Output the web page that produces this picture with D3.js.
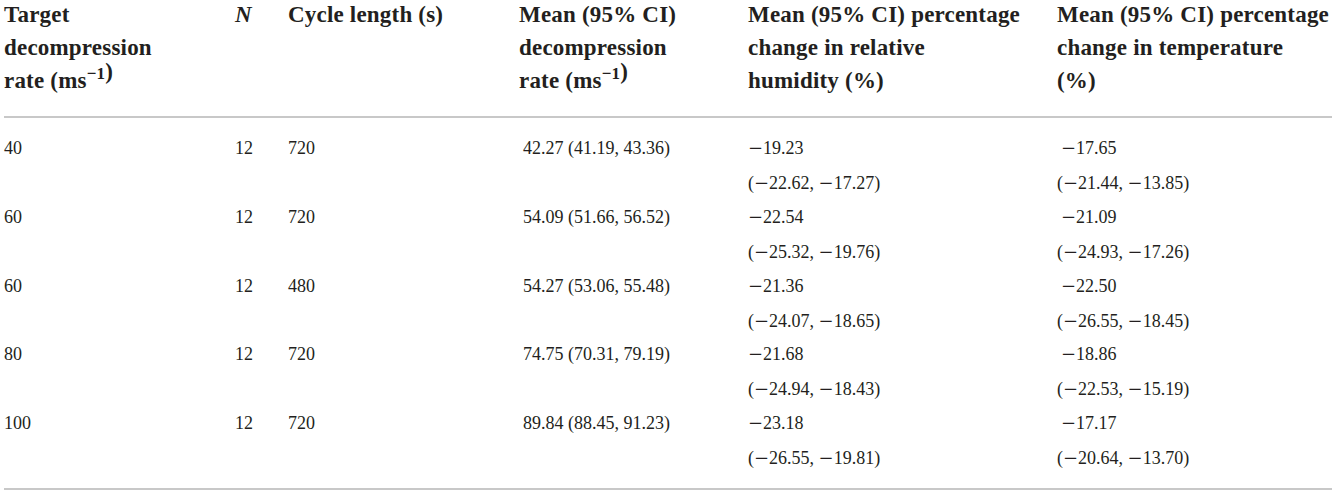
<!DOCTYPE html>
<html>
<head>
<meta charset="utf-8" />
<title>Decompression table</title>
<style>
    html, body { margin: 0; padding: 0; background: #fff; }
    svg text { fill: #231f20; }
    .head { font-family: "Liberation Serif", "Times New Roman", serif; font-weight: bold; font-size: 23px; letter-spacing: 0.2px; }
    .cell { font-family: "Liberation Serif", "Times New Roman", serif; font-size: 18px; }
    .minus { font-family: "DejaVu Serif", serif; }
</style>
</head>
<body>
<div id="container"></div>
<script src="https://cdn.jsdelivr.net/npm/d3@7"></script>
<script>
    // table values
    const columns = ['target', 'n', 'cycle', 'decomp', 'rh', 'temp']
    const headers = [
        ['Target', 'decompression', 'rate (ms^−1^)'],
        ['N'],
        ['Cycle length (s)'],
        ['Mean (95% CI)', 'decompression', 'rate (ms^−1^)'],
        ['Mean (95% CI) percentage', 'change in relative', 'humidity (%)'],
        ['Mean (95% CI) percentage', 'change in temperature', '(%)']
    ]
    const targetRate = [40, 60, 60, 80, 100]
    const nValues = [12, 12, 12, 12, 12]
    const cycleLength = [720, 720, 480, 720, 720]
    const decompMean = [42.27, 54.09, 54.27, 74.75, 89.84]
    const decompLo = [41.19, 51.66, 53.06, 70.31, 88.45]
    const decompHi = [43.36, 56.52, 55.48, 79.19, 91.23]
    const rhMean = [-19.23, -22.54, -21.36, -21.68, -23.18]
    const rhLo = [-22.62, -25.32, -24.07, -24.94, -26.55]
    const rhHi = [-17.27, -19.76, -18.65, -18.43, -19.81]
    const tempMean = [-17.65, -21.09, -22.50, -18.86, -17.17]
    const tempLo = [-21.44, -24.93, -26.55, -22.53, -20.64]
    const tempHi = [-13.85, -17.26, -18.45, -15.19, -13.70]

    const width = 1334
    const height = 495

    const f2 = d3.format('.2f')

    // one entry per row, each cell is a list of text lines
    const rows = targetRate.map(function(t, i) {
        return {
            target: [String(t)],
            n: [String(nValues[i])],
            cycle: [String(cycleLength[i])],
            decomp: [`${f2(decompMean[i])} (${f2(decompLo[i])}, ${f2(decompHi[i])})`],
            rh: [f2(rhMean[i]), `(${f2(rhLo[i])}, ${f2(rhHi[i])})`],
            temp: [f2(tempMean[i]), `(${f2(tempLo[i])}, ${f2(tempHi[i])})`]
        }
    })

    let svg = d3.select('#container').append('svg').attr('width', width).attr('height', height)

    // column left edges
    let xCol = d3.scaleOrdinal().domain(columns).range([4, 235, 288, 519, 748, 1057])
    // small indent of body text relative to header
    let xIndent = d3.scaleOrdinal().domain(columns).range([0, 0, 0, 4, 0, 0])
    // header line baselines
    let yHead = d3.scaleLinear().domain([0, 1]).range([22, 55])
    // row baselines
    let yRow = d3.scaleLinear().domain([0, 1]).range([154, 222.75])
    const lineGap = 35

    // rules
    const rules = [117, 489]
    svg.selectAll('line.rule').data(rules).enter().append('line')
        .attr('class', 'rule')
        .attr('x1', 4).attr('x2', 1332)
        .attr('y1', d => d).attr('y2', d => d)
        .attr('stroke', '#c8c8c8').attr('stroke-width', 2)

    // header
    columns.forEach(function(c, ci) {
        headers[ci].forEach(function(line, li) {
            let t = svg.append('text').attr('class', 'head')
                .attr('x', xCol(c)).attr('y', yHead(li))
            if (c === 'n') t.style('font-style', 'italic')
            line.split('^').forEach(function(part, pi) {
                if (!part) return
                if (pi % 2 === 1) {
                    t.append('tspan').attr('dy', -9).style('font-size', '17px').text(part)
                    t.append('tspan').attr('dy', 9).text('')
                } else {
                    t.append('tspan').text(part)
                }
            })
        })
    })

    // body text; minus signs set in a wider face like the original typeset
    function writeCell(sel, str) {
        const parts = str.split('−')
        parts.forEach(function(p, pi) {
            if (pi > 0) sel.append('tspan').attr('class', 'minus').text('−')
            sel.append('tspan').text(p)
        })
    }

    rows.forEach(function(r, ri) {
        columns.forEach(function(c) {
            r[c].forEach(function(line, li) {
                let t = svg.append('text').attr('class', 'cell')
                    .attr('x', xCol(c) + xIndent(c) + (c === 'temp' && li === 0 ? 4 : 0))
                    .attr('y', yRow(ri) + li * lineGap)
                writeCell(t, line)
            })
        })
    })
</script>
</body>
</html>
